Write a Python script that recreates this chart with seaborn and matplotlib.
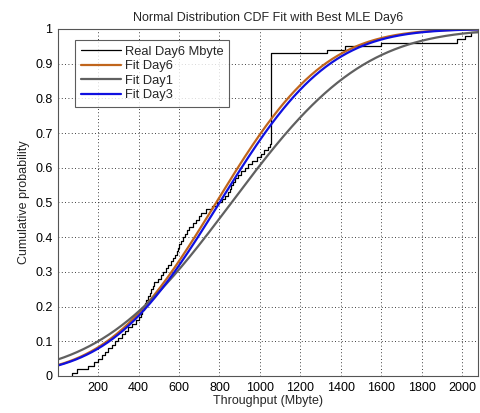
import math
import numpy as np
import pandas as pd
import matplotlib
matplotlib.use("Agg")
import matplotlib.pyplot as plt
import seaborn as sns

# real Day6 throughput samples (Mbyte)
real_day6 = [72, 98, 150, 178, 200, 218, 232, 250, 268, 285,
             300, 318, 335, 350, 368, 385, 400, 410, 418, 425,
             430, 436, 445, 455, 462, 470, 478, 495, 510, 522,
             535, 548, 560, 572, 580, 588, 596, 602, 610, 618,
             628, 638, 650, 668, 685, 698, 708, 735, 765, 790,
             812, 828, 840, 850, 858, 866, 878, 892, 908, 925,
             942, 960, 985, 1005, 1022, 1038, 1048,
             1055, 1055, 1055, 1055, 1055, 1055, 1055, 1055, 1055, 1055,
             1055, 1055, 1055, 1055, 1055, 1055, 1055, 1055, 1055, 1055,
             1055, 1055, 1055, 1055, 1055, 1055,
             1330, 1420, 1600, 1975, 2015, 2045, 2078]

# normal fits (mean, std) per day
fit_names = ["Fit Day6", "Fit Day1", "Fit Day3"]
fit_mu = [784, 860, 801]
fit_sigma = [421, 515, 426]
fit_colors = ["#c0651c", "#606060", "#1010e0"]

x_ticks = [200, 400, 600, 800, 1000, 1200, 1400, 1600, 1800, 2000]
y_ticks = [0, 0.1, 0.2, 0.3, 0.4, 0.5, 0.6, 0.7, 0.8, 0.9, 1]
y_tick_labels = ["0", "0.1", "0.2", "0.3", "0.4", "0.5", "0.6", "0.7", "0.8", "0.9", "1"]

sns.set_style("white")
plt.rcParams['font.family'] = ['Liberation Sans', 'DejaVu Sans']

fig = plt.figure(figsize=(4.8, 4.13), dpi=100)
ax = fig.add_axes([0.121, 0.0896, 0.875, 0.8402])

sns.ecdfplot(x=real_day6, ax=ax, color="black", linewidth=0.9, label="Real Day6 Mbyte")

xs = np.linspace(0, 2100, 400)
for name, mu, sd, col in zip(fit_names, fit_mu, fit_sigma, fit_colors):
    ys = [0.5 * (1 + math.erf((v - mu) / (sd * math.sqrt(2)))) for v in xs]
    sns.lineplot(x=xs, y=ys, ax=ax, color=col, linewidth=1.6, label=name)

ax.set_xlim(2, 2079)
ax.set_ylim(0, 1)
ax.set_xticks(x_ticks)
ax.set_xticklabels([str(t) for t in x_ticks])
ax.set_yticks(y_ticks)
ax.set_yticklabels(y_tick_labels)
ax.tick_params(direction="in", length=3, labelsize=9, colors="black", pad=4)
ax.grid(True, color="black", linestyle=(0, (1, 3)), linewidth=0.6)
for s in ax.spines.values():
    s.set_color("#555555")
    s.set_linewidth(0.8)

ax.set_title("Normal Distribution CDF Fit with Best MLE Day6", fontsize=9, pad=6)
ax.set_xlabel("Throughput (Mbyte)", fontsize=9, labelpad=1)
ax.set_ylabel("Cumulative probability", fontsize=9, labelpad=4)

leg = ax.legend(loc="upper left", bbox_to_anchor=(0.040, 0.968), fontsize=9.3,
                frameon=True, fancybox=False, handlelength=3.1, handletextpad=0.3,
                borderpad=0.45, labelspacing=0.18, borderaxespad=0)
leg.get_frame().set_edgecolor("#333333")
leg.get_frame().set_linewidth(0.8)

plt.savefig("out.png", dpi=100)
